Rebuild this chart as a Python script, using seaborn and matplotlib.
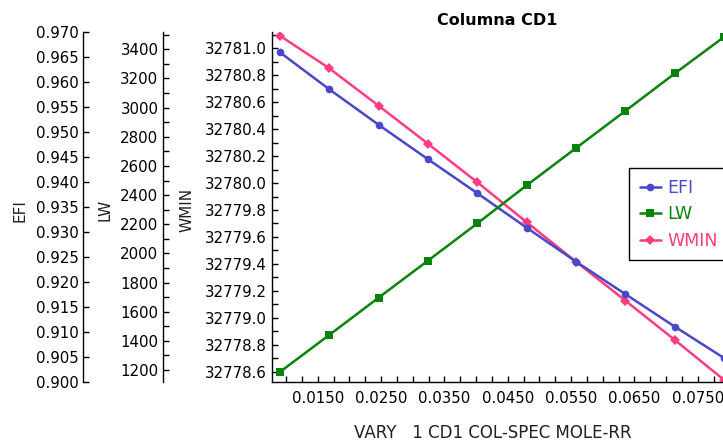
import matplotlib
matplotlib.use("Agg")
import matplotlib.pyplot as plt
from matplotlib.ticker import FixedLocator, MultipleLocator, FormatStrFormatter
import seaborn as sns

# Swept variable and the three responses
x_vals = [0.0090, 0.0168, 0.0246, 0.0324, 0.0402, 0.0480, 0.0558, 0.0636, 0.0714, 0.0792]
efi = [0.9659, 0.9585, 0.9514, 0.9445, 0.9377, 0.9308, 0.9240, 0.9175, 0.9110, 0.9047]
lw = [1186, 1440, 1696, 1950, 2206, 2467, 2723, 2978, 3235, 3486]
wmin = [32781.094, 32780.852, 32780.574, 32780.292, 32780.006,
        32779.709, 32779.416, 32779.127, 32778.835, 32778.538]

x_ticks = [0.015, 0.025, 0.035, 0.045, 0.055, 0.065, 0.075]
x_tick_labels = ["0.0150", "0.0250", "0.0350", "0.0450", "0.0550", "0.0650", "0.0750"]
efi_ticks = [0.900, 0.905, 0.910, 0.915, 0.920, 0.925, 0.930, 0.935,
             0.940, 0.945, 0.950, 0.955, 0.960, 0.965, 0.970]
lw_ticks = [1200, 1400, 1600, 1800, 2000, 2200, 2400, 2600, 2800, 3000, 3200, 3400]
wmin_ticks = [32778.6, 32778.8, 32779.0, 32779.2, 32779.4, 32779.6,
              32779.8, 32780.0, 32780.2, 32780.4, 32780.6, 32780.8, 32781.0]

title = "Columna CD1"
x_label = "VARY   1 CD1 COL-SPEC MOLE-RR"
names = ["EFI", "LW", "WMIN"]
colors = ["#4848C8", "#08840A", "#FF3C82"]

sns.set_style("ticks")
plt.rcParams["font.family"] = ["DejaVu Sans"]
plt.rcParams["text.color"] = "black"
plt.rcParams["axes.labelcolor"] = "#202020"

W, H, DPI = 723, 440, 100
fig = plt.figure(figsize=(W / DPI, H / DPI), dpi=DPI)
fig.patch.set_facecolor("white")

# plot box in pixels (it runs a little past the right edge of the canvas)
left_px, right_px, top_px, bottom_px = 271.5, 732.5, 31.7, 381.7
ax_w = right_px - left_px
ax_h = bottom_px - top_px
ax = fig.add_axes([left_px / W, (H - bottom_px) / H, ax_w / W, ax_h / H])
ax_efi = ax.twinx()
ax_lw = ax.twinx()

tick_fs = 10.8
label_fs = 11

# host axis: WMIN
for s in ("top", "right"):
    ax.spines[s].set_visible(False)
for s in ("left", "bottom"):
    ax.spines[s].set_color("black")
    ax.spines[s].set_linewidth(1.0)

# extra left axes for EFI and LW
for a, spine_px in ((ax_efi, 83.3), (ax_lw, 163.3)):
    for s in ("top", "right", "bottom"):
        a.spines[s].set_visible(False)
    a.spines["left"].set_visible(True)
    a.spines["left"].set_color("black")
    a.spines["left"].set_linewidth(1.0)
    a.spines["left"].set_position(("outward", (left_px - spine_px) * 72 / DPI))
    a.yaxis.set_ticks_position("left")
    a.yaxis.set_label_position("left")

series = [(ax_efi, efi, "o", 5.5), (ax_lw, lw, "s", 5.3), (ax, wmin, "D", 4.8)]
handles = []
for (a, vals, mk, ms), col in zip(series, colors):
    sns.lineplot(x=x_vals, y=vals, ax=a, color=col, marker=mk, markersize=ms,
                 markeredgewidth=0, linewidth=1.8, legend=False)
    handles.append(a.lines[-1])

ax.set_xlim(0.0077, 0.0805)
ax.set_ylim(32778.526, 32781.123)
ax_efi.set_ylim(0.900, 0.970)
ax_lw.set_ylim(1120, 3521)

ax.xaxis.set_major_locator(FixedLocator(x_ticks))
ax.set_xticklabels(x_tick_labels)
ax.xaxis.set_minor_locator(MultipleLocator(0.0025))

ax.yaxis.set_major_locator(FixedLocator(wmin_ticks))
ax.yaxis.set_major_formatter(FormatStrFormatter("%.1f"))
ax.yaxis.set_minor_locator(MultipleLocator(0.1))

ax_efi.yaxis.set_major_locator(FixedLocator(efi_ticks))
ax_efi.yaxis.set_major_formatter(FormatStrFormatter("%.3f"))

ax_lw.yaxis.set_major_locator(FixedLocator(lw_ticks))
ax_lw.yaxis.set_major_formatter(FormatStrFormatter("%d"))
ax_lw.yaxis.set_minor_locator(MultipleLocator(100))

for a in (ax, ax_efi, ax_lw):
    a.tick_params(axis="y", which="both", direction="in", length=4, width=1,
                  colors="black", labelsize=tick_fs, pad=3.5,
                  left=True, right=False, labelleft=True, labelright=False)
ax.tick_params(axis="x", which="both", direction="in", length=4, width=1,
               colors="black", labelsize=tick_fs, pad=7)
ax.grid(False)

# axis titles
ax.set_xlabel(x_label, fontsize=12)
ax.xaxis.set_label_coords((493 - left_px) / ax_w, (bottom_px - 423.5) / ax_h)
for a, name, edge_px in ((ax_efi, "EFI", 27.5), (ax_lw, "LW", 112.5), (ax, "WMIN", 194.0)):
    a.set_ylabel(name, fontsize=label_fs)
    a.yaxis.set_label_coords((edge_px - left_px) / ax_w, 0.49)

ax.set_title(title, fontsize=11.5, fontweight="bold", color="black",
             x=(496.7 - left_px) / ax_w, pad=5)

leg = ax_lw.legend(handles, names, loc="upper left",
                   bbox_to_anchor=((629.3 - left_px) / ax_w, (bottom_px - 168.3) / ax_h),
                   borderaxespad=0, frameon=True, fancybox=False, framealpha=1,
                   edgecolor="black", fontsize=12.5, handlelength=1.2,
                   handletextpad=0.4, labelspacing=0.5, borderpad=0.6, numpoints=1)
leg.get_frame().set_linewidth(1.0)
for txt, col in zip(leg.get_texts(), colors):
    txt.set_color(col)

fig.savefig("out.png", dpi=DPI)
